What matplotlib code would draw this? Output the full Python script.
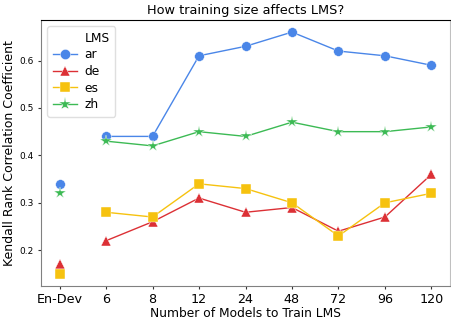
import matplotlib
matplotlib.use("Agg")
import matplotlib.pyplot as plt
from matplotlib.lines import Line2D

categories = ["En-Dev", "6", "8", "12", "24", "48", "72", "96", "120"]
ar = [0.34, 0.44, 0.44, 0.61, 0.63, 0.66, 0.62, 0.61, 0.59]
de = [0.17, 0.22, 0.26, 0.31, 0.28, 0.29, 0.24, 0.27, 0.36]
es = [0.15, 0.28, 0.27, 0.34, 0.33, 0.30, 0.23, 0.30, 0.32]
zh = [0.32, 0.43, 0.42, 0.45, 0.44, 0.47, 0.45, 0.45, 0.46]

series = [("ar", ar, "#4a86e8", "o", 7),
          ("de", de, "#dc3035", "^", 7),
          ("es", es, "#f6c20f", "s", 6.5),
          ("zh", zh, "#3cba54", "*", 9)]

fig = plt.figure(figsize=(4.51, 3.2), dpi=100)
ax = fig.add_axes([41/451, 1-286/320, 409/451, 266/320])
x = list(range(len(categories)))
handles = [Line2D([], [], linestyle="none", marker=None)]
labels = ["LMS"]
for name, vals, col, mk, ms in series:
    kw = dict(color=col, marker=mk, markersize=ms, markeredgecolor="white",
              markeredgewidth=0.3)
    ax.plot(x[1:], vals[1:], linewidth=1, **kw)
    ax.plot(x[:1], vals[:1], linestyle="none", **kw)
    handles.append(Line2D([], [], linewidth=1, **kw))
    labels.append(name)

ax.set_xticks(x)
ax.set_xticklabels(categories, fontsize=9.2)
ax.set_yticks([0.2, 0.3, 0.4, 0.5, 0.6])
ax.tick_params(axis="y", labelsize=6.5, length=2.5, pad=2.5, color="#333333")
ax.tick_params(axis="x", length=2.5, pad=2.5, color="#333333")
ax.set_title("How training size affects LMS?", fontsize=9.3, pad=4)
ax.set_xlabel("Number of Models to Train LMS", fontsize=8.8, labelpad=1)
ax.set_ylabel("Kendall Rank Correlation Coefficient", fontsize=9, labelpad=3)
ax.spines["left"].set_color("#808080")
ax.spines["bottom"].set_color("#808080")
ax.spines["right"].set_color("#c0c0c0")
ax.spines["top"].set_color("black")
leg = ax.legend(handles, labels, loc="upper left", fontsize=8.8, frameon=True,
                handlelength=2, borderaxespad=0.5, markerscale=1.05,
                handletextpad=0.6, borderpad=0.45, labelspacing=0.3)
leg.get_frame().set_edgecolor("#d8d8d8")
fig.savefig("out.png", dpi=100)
